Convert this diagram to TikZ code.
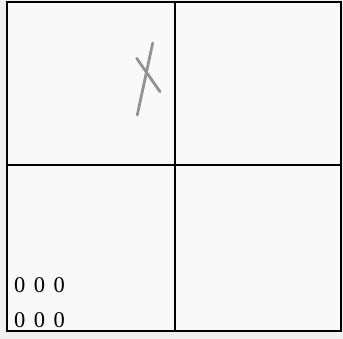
\documentclass[tikz,border=0pt]{standalone}
\usepackage{fontspec}
\setmainfont{Liberation Serif}
\begin{document}
\begin{tikzpicture}[x=1pt,y=-1pt,
  gridline/.style={black,line width=1.5pt},
  pencil/.style={gray!85,line width=2.8pt,line cap=round},
  digits/.style={font=\fontsize{22.5}{22.5}\selectfont,anchor=west,inner sep=0pt}]
\fill[gray!12] (0,0) rectangle (343,339);
\useasboundingbox (0,0) rectangle (343,339);
\fill[gray!5] (7,2) rectangle (341,331);
\draw[gridline] (7,2) rectangle (341,331);
\draw[gridline] (175,2) -- (175,331);
\draw[gridline] (7,165) -- (341,165);
\draw[pencil] (152.7,43) -- (137.3,115);
\draw[pencil] (136.7,58.3) -- (160,91.7);
\node[digits] (r1) at (14,285) {0\hspace{8.5pt}0\hspace{8.5pt}0};
\node[digits] (r2) at (14,320) {0\hspace{8.5pt}0\hspace{8.5pt}0};
\end{tikzpicture}
\end{document}
